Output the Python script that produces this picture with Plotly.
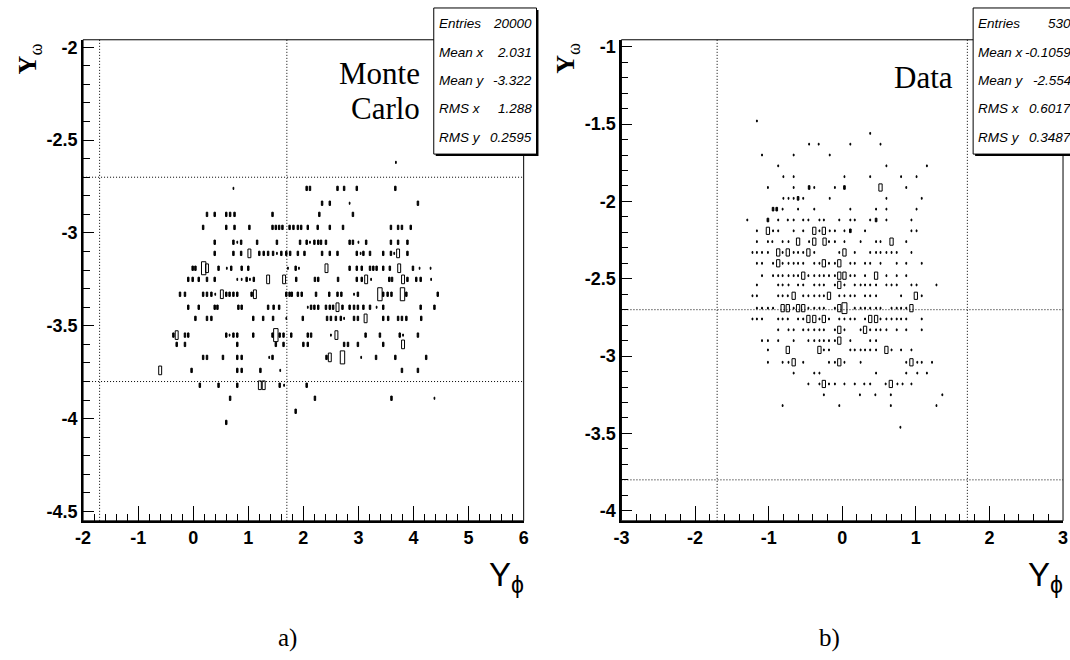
import plotly.graph_objects as go

W, H = 1070, 660

# ---------------- data ----------------
# (a) Monte Carlo: box-histogram cells, one list per row of Y_omega.
# entries: x (default weight) or (x, weight)
MC_ROW_Y = [-2.62, -2.76, -2.84, -2.90, -2.97, -3.05, -3.11, -3.19, -3.25, -3.33,
            -3.40, -3.46, -3.55, -3.60, -3.67, -3.74, -3.82, -3.89, -3.96, -4.02]
MC_ROW_CELLS = [
    [(3.68, 1)],
    [(0.73, 1), 2.06, 2.12, 2.62, 2.74, 2.97, 3.67],
    [2.34, 2.48, (2.84, 1), 4.08],
    [0.25, 0.39, 0.60, 0.67, 0.75, 1.44, 2.29, 2.90],
    [0.18, 0.60, 0.75, 1.02, 1.44, 1.50, 1.56, 1.62, 1.75, 1.82, 1.90, 1.96, 2.08, 2.26,
     2.48, 2.72, 3.59, 3.72, 3.79, 3.95],
    [0.39, 0.73, (0.80, 1), 0.87, 1.16, 1.52, 1.94, 2.06, (2.12, 1), 2.20, 2.27, 2.32, 2.41,
     2.84, 2.90, (3.00, 1), 3.14, 3.59, 3.72, 3.89],
    [0.39, 0.73, 0.87, (1.02, 4), 1.20, 1.28, 1.36, 1.45, (1.52, 1), 1.60, 1.69, 1.76, 1.90,
     2.02, 2.34, 2.48, 2.62, 2.97, (3.04, 1), 3.09, 3.21, 3.45, 3.59, (3.65, 1), (3.72, 4), 3.89],
    [-0.01, 0.04, (0.19, 6), (0.25, 4), 0.46, (0.61, 1), 0.69, 0.88, 1.00, (1.72, 1), 1.86,
     (1.92, 1), (2.42, 4), 2.84, 2.97, 3.06, 3.21, 3.27, 3.33, 3.45, 3.57, (3.74, 4), 3.99,
     (4.11, 1), (4.31, 1)],
    [-0.09, -0.01, 0.10, 0.25, 0.39, (0.80, 1), (0.88, 1), 0.97, (1.03, 1), 1.10, (1.36, 4),
     (1.65, 4), 1.87, 2.21, 2.27, 2.63, 2.97, 3.06, (3.14, 4), (3.23, 1), 3.56, 3.61, (3.81, 4),
     3.89, 4.05, 4.13, (4.32, 1)],
    [-0.24, -0.15, 0.18, 0.25, 0.33, (0.40, 1), (0.52, 4), 0.60, 0.66, 0.73, 0.80, 1.06,
     (1.12, 4), 1.69, 1.75, 1.79, 1.90, 1.97, 2.23, 2.47, 2.62, 2.69, (2.92, 1), 2.99, (3.39, 6),
     3.45, 3.53, 3.60, (3.80, 6), 3.87, 4.44],
    [-0.09, 0.10, 0.39, 0.44, 0.82, 0.88, 1.36, 1.46, 1.56, (2.08, 1), 2.14, 2.20, 2.27, 2.41,
     2.48, 2.54, (2.62, 4), 2.71, 2.84, 2.92, 2.99, 3.09, 3.21, (3.33, 1), 3.45, 4.13, 4.38],
    [0.04, 0.25, 0.33, 1.09, 1.27, 1.45, (1.69, 1), 1.99, 2.43, 2.50, 2.59, 2.68, (2.74, 1),
     2.92, 2.99, (3.13, 4), 3.45, 3.54, 3.72, 3.79, 3.87, 4.14],
    [-0.36, (-0.30, 4), -0.15, -0.09, 0.60, (0.66, 1), 0.73, 0.80, 1.09, 1.44, (1.50, 6), 1.57,
     1.64, 1.78, 2.08, 2.14, (2.50, 1), (2.60, 4), 3.13, 3.39, 3.75, (3.81, 1), 4.08],
    [-0.30, -0.15, 0.80, 1.50, 1.64, 2.00, 2.08, 2.74, 2.81, 2.99, 3.45, (3.81, 4)],
    [0.18, 0.25, 0.54, 0.80, 0.88, (1.38, 1), 1.44, 2.42, (2.48, 4), (2.71, 6), (3.05, 1), 3.32,
     3.67, 4.23],
    [(-0.60, 4), -0.03, 0.80, 0.88, 1.22, (1.58, 1), 3.79, 4.08],
    [0.12, 0.46, 0.80, (1.21, 4), (1.28, 4), 1.57, (1.65, 1), 2.06],
    [0.67, 2.21, 3.60, (4.38, 1)],
    [1.86],
    [0.60],
]
MC_DEFAULT_W = 2

# (b) Data
DT_ROW_Y = [-1.48, -1.56, -1.63, -1.70, -1.77, -1.84, -1.91, -1.98, -2.05, -2.12, -2.19, -2.26,
            -2.33, -2.40, -2.48, -2.54, -2.61, -2.69, -2.76, -2.83, -2.90, -2.96, -3.04, -3.11,
            -3.18, -3.25, -3.32, -3.46]
DT_ROW_CELLS = [
    [-1.16],
    [0.38],
    [-0.45, -0.32, 0.11, 0.52],
    [-1.09, -0.66, -0.17],
    [-0.87, 0.60, 1.15],
    [-0.80, -0.66, 0.03, 0.38, 0.80, 1.01],
    [-1.01, -0.66, (-0.45, 2), -0.38, -0.10, (0.03, 2), (0.52, 4), 0.87],
    [-0.80, -0.73, -0.66, (-0.60, 2), -0.53, -0.17, 0.60, 1.08],
    [(-0.94, 2), (-0.89, 2), -0.81, -0.60, -0.38, 0.11, 0.46, 0.60, 1.01],
    [-1.29, (-1.01, 2), -0.87, -0.74, -0.66, -0.53, -0.46, -0.31, -0.25, -0.04, 0.11, 0.17, 0.38,
     (0.46, 2), 0.60, 0.94],
    [-1.16, (-1.01, 4), -0.94, -0.87, -0.66, -0.53, (-0.38, 4), -0.31, (-0.25, 4), -0.17, -0.10,
     0.03, (0.11, 2), 0.31, 0.94, 1.01],
    [-1.16, -1.01, -0.95, -0.81, -0.73, (-0.60, 4), -0.45, (-0.38, 4), (-0.24, 4), -0.18, -0.10,
     0.03, 0.25, 0.46, 0.52, (0.67, 4), 0.87],
    [-1.22, -1.16, -1.09, -1.01, (-0.87, 4), -0.81, (-0.74, 4), -0.66, -0.60, -0.53, (-0.46, 4),
     -0.38, -0.04, (0.03, 4), 0.17, 0.38, 0.46, 0.52, 0.60, 0.67, 0.74, 0.94],
    [-1.16, -1.09, -0.94, (-0.87, 4), -0.81, -0.73, -0.66, -0.60, -0.53, -0.38, -0.31, (-0.25, 4),
     -0.18, -0.10, (-0.04, 4), 0.11, 0.17, 0.31, 0.38, 0.52, 0.74, 0.87, 1.08],
    [-1.09, -0.94, -0.87, -0.81, -0.73, -0.66, -0.60, (-0.53, 4), -0.46, -0.38, -0.31, -0.25,
     -0.18, -0.10, (-0.04, 4), (0.03, 4), 0.11, 0.17, 0.31, (0.46, 4), 0.60, 0.74, 0.87],
    [-1.16, -0.87, -0.81, -0.73, -0.60, -0.53, -0.38, -0.31, -0.25, -0.10, (-0.04, 4), 0.03, 0.17,
     0.25, 0.31, 0.38, 0.46, 0.60, 0.67, 0.74, 0.94, 1.01, 1.28],
    [-1.22, -1.16, -0.87, -0.81, -0.74, (-0.66, 4), -0.53, -0.46, -0.38, -0.31, -0.25, (-0.18, 4),
     -0.04, 0.03, 0.11, 0.17, 0.31, 0.38, 0.46, 0.80, (1.00, 4), 1.08],
    [-1.16, -1.09, -1.01, -0.94, (-0.81, 4), (-0.74, 4), -0.66, (-0.60, 4), (-0.53, 4), -0.46,
     -0.38, -0.31, -0.25, -0.10, (-0.04, 4), (0.03, 6), 0.17, 0.25, 0.31, 0.38, 0.46, 0.52, 0.67,
     0.74, 0.80, 0.87, (0.94, 4)],
    [-1.22, -1.16, -1.09, -0.87, -0.81, -0.74, -0.60, -0.53, (-0.46, 4), (-0.38, 4), -0.31,
     (-0.25, 4), -0.18, -0.04, 0.03, 0.11, 0.17, 0.31, (0.38, 4), (0.46, 4), 0.52, 0.60, 0.67,
     0.74, 0.80, 0.87, 1.08],
    [-0.87, -0.73, -0.66, -0.53, -0.46, -0.38, -0.31, -0.25, -0.10, (-0.04, 4), 0.03, 0.25,
     (0.31, 4), 0.38, 0.46, 0.52, 0.60, 0.74, 0.87, 1.08],
    [-1.09, -1.01, -0.87, -0.66, -0.46, -0.38, -0.31, -0.25, -0.18, -0.10, (-0.04, 4), 0.11,
     0.38, 0.46],
    [-1.01, (-0.74, 4), (-0.31, 4), -0.25, -0.18, 0.11, 0.17, 0.25, 0.31, 0.38, 0.46, (0.60, 4),
     0.67, 0.80, 0.94],
    [-1.01, -0.81, -0.73, (-0.66, 4), -0.53, -0.18, -0.10, (-0.04, 4), 0.03, 0.25, 0.87,
     (0.94, 4), 1.02, 1.08, 1.22],
    [-0.66, -0.38, -0.31, 0.46, 0.87, 1.02, 1.15],
    [-0.46, -0.31, (-0.25, 4), -0.18, -0.10, 0.03, 0.17, 0.30, 0.38, 0.59, (0.66, 4), 0.75, 0.82,
     0.94],
    [-0.25, 0.24, 0.45, 0.66, 1.36],
    [-0.81, -0.04, 0.66, 1.28],
    [0.79],
]
DT_DEFAULT_W = 1

BOX_WMAX = 6
MC_BIN = (0.08, 0.07)     # x, y bin widths
DT_BIN = (0.067, 0.07)

CUT_X = [-1.7, 1.7]
CUT_Y = [-2.7, -3.8]

MC_XTICKS = [-2, -1, 0, 1, 2, 3, 4, 5, 6]
MC_YTICKS = [-2, -2.5, -3, -3.5, -4, -4.5]
DT_XTICKS = [-3, -2, -1, 0, 1, 2, 3]
DT_YTICKS = [-1, -1.5, -2, -2.5, -3, -3.5, -4]

STAT_LABELS = ["Entries", "Mean x", "Mean y", "RMS x", "RMS y"]
MC_STATS = ["20000", "2.031", "-3.322", "1.288", "0.2595"]
DT_STATS = ["530", "-0.1059", "-2.554", "0.6017", "0.3487"]


def boxes(rows_y, rows_cells, default_w, bins, small):
    """Rectangles for cells; small=True keeps weights <= 2, else > 2."""
    bw, bh = bins
    xs, ys = [], []
    for y, cells in zip(rows_y, rows_cells):
        for cell in cells:
            x, w = cell if isinstance(cell, tuple) else (cell, default_w)
            if (w <= 2) != small:
                continue
            f = w / BOX_WMAX
            hw, hh = 0.5 * bw * f, 0.5 * bh * f
            xs += [x - hw, x + hw, x + hw, x - hw, x - hw, None]
            ys += [y - hh, y - hh, y + hh, y + hh, y - hh, None]
    return xs, ys


def px(v):
    return v / W


def py(v):
    return 1 - v / H


fig = go.Figure()
for (ry, rc, dw, bins, xa, ya) in [
    (MC_ROW_Y, MC_ROW_CELLS, MC_DEFAULT_W, MC_BIN, "x", "y"),
    (DT_ROW_Y, DT_ROW_CELLS, DT_DEFAULT_W, DT_BIN, "x2", "y2"),
]:
    bx, by = boxes(ry, rc, dw, bins, True)
    fig.add_trace(go.Scatter(x=bx, y=by, mode="lines", xaxis=xa, yaxis=ya, fill="toself",
                             fillcolor="black",
                             line=dict(color="black", width=1), connectgaps=False,
                             hoverinfo="skip", showlegend=False))
    bx, by = boxes(ry, rc, dw, bins, False)
    fig.add_trace(go.Scatter(x=bx, y=by, mode="lines", xaxis=xa, yaxis=ya,
                             line=dict(color="black", width=1), connectgaps=False,
                             hoverinfo="skip", showlegend=False))

TICKFONT = dict(family="Liberation Sans, Arial", size=18, color="black")


def fmt(v):
    return "<b>%g</b>" % v


def xaxis_cfg(domain, rng, ticks, anchor):
    return dict(domain=domain, range=rng, anchor=anchor, showgrid=False, zeroline=False,
                showline=True, linewidth=2, linecolor="black", mirror=False,
                tickmode="array", tickvals=ticks, ticktext=[fmt(t) for t in ticks],
                ticks="inside", ticklen=15, tickwidth=1, tickcolor="black",
                tickfont=TICKFONT,
                minor=dict(tickmode="linear", tick0=ticks[0], dtick=0.2, ticks="inside",
                           ticklen=7, tickwidth=1, tickcolor="black", showgrid=False))


def yaxis_cfg(domain, rng, ticks, anchor):
    return dict(domain=domain, range=rng, anchor=anchor, showgrid=False, zeroline=False,
                showline=True, linewidth=2, linecolor="black", mirror=False,
                tickmode="array", tickvals=ticks, ticktext=[fmt(t) for t in ticks],
                ticks="inside", ticklen=11, tickwidth=1, tickcolor="black",
                tickfont=TICKFONT,
                minor=dict(tickmode="linear", tick0=ticks[0], dtick=0.1, ticks="inside",
                           ticklen=7, tickwidth=1, tickcolor="black", showgrid=False))


YDOM = [py(521), py(37)]
fig.update_layout(
    width=W, height=H, margin=dict(l=0, r=0, t=0, b=0),
    paper_bgcolor="white", plot_bgcolor="white",
    xaxis=xaxis_cfg([px(76), px(522)], [-2, 6], MC_XTICKS, "y"),
    yaxis=yaxis_cfg(YDOM, [-4.55, -1.96], MC_YTICKS, "x"),
    xaxis2=xaxis_cfg([px(621), px(1068)], [-3, 3], DT_XTICKS, "y2"),
    yaxis2=yaxis_cfg(YDOM, [-4.065, -0.955], DT_YTICKS, "x2"),
)

shapes = []
anns = []
DOTTED = dict(color="black", width=1, dash="1px,2px")
for xa, ya in [("x", "y"), ("x2", "y2")]:
    for cx in CUT_X:
        shapes.append(dict(type="line", xref=xa, yref=ya + " domain", x0=cx, x1=cx, y0=0, y1=1,
                           line=DOTTED, layer="below"))
    for cy in CUT_Y:
        shapes.append(dict(type="line", xref=xa + " domain", yref=ya, x0=0, x1=1, y0=cy, y1=cy,
                           line=DOTTED, layer="below"))
    shapes.append(dict(type="rect", xref=xa + " domain", yref=ya + " domain", x0=0, x1=1,
                       y0=0, y1=1, line=dict(color="black", width=1), layer="above"))

STATFONT = dict(family="Liberation Sans, Arial", size=13.5, color="black")
for (bx0, vals) in [(431, MC_STATS), (977, DT_STATS)]:
    bx1 = bx0 + 104
    shapes.append(dict(type="rect", xref="paper", yref="paper", x0=px(bx0 + 2), x1=px(bx1 + 2),
                       y0=py(154), y1=py(7), fillcolor="black", line=dict(width=0),
                       layer="above"))
    shapes.append(dict(type="rect", xref="paper", yref="paper", x0=px(bx0), x1=px(bx1),
                       y0=py(152), y1=py(5), fillcolor="white",
                       line=dict(color="black", width=1), layer="above"))
    for i, (lab, val) in enumerate(zip(STAT_LABELS, vals)):
        yc = 21 + 28.5 * i
        anns.append(dict(xref="paper", yref="paper", x=px(bx0 + 3), y=py(yc), xanchor="left",
                         yanchor="middle", text="<i>%s</i>" % lab, showarrow=False,
                         font=STATFONT))
        anns.append(dict(xref="paper", yref="paper", x=px(bx1 - 3), y=py(yc), xanchor="right",
                         yanchor="middle", text="<i>%s</i>" % val, showarrow=False,
                         font=STATFONT))

SERIF = "Liberation Serif, Times New Roman, serif"
SANS = "Liberation Sans, Arial"
texts = [
    (419, 71, "right", "Monte", SERIF, 31),
    (419, 106, "right", "Carlo", SERIF, 31),
    (959, 75, "right", "Data", SERIF, 31),
    (283, 639, "center", "a)", SERIF, 25),
    (832, 639, "center", "b)", SERIF, 25),
]
for x, y, xa, t, fam, sz in texts:
    anns.append(dict(xref="paper", yref="paper", x=px(x), y=py(y), xanchor=xa, yanchor="middle",
                     text=t, showarrow=False, font=dict(family=fam, size=sz, color="black")))

for x in [524, 1070]:
    anns.append(dict(xref="paper", yref="paper", x=px(x), y=py(577), xanchor="right",
                     yanchor="middle", text="Y<sub>ϕ</sub>", showarrow=False,
                     font=dict(family=SANS, size=33, color="black")))
for x in [21, 566]:
    anns.append(dict(xref="paper", yref="paper", x=px(x), y=py(56), xanchor="center",
                     yanchor="middle", text="<b>Y</b><sub>ω</sub>", textangle=-90,
                     showarrow=False, font=dict(family=SERIF, size=26, color="black")))

fig.update_layout(shapes=shapes, annotations=anns)
fig.write_html("out.html")
